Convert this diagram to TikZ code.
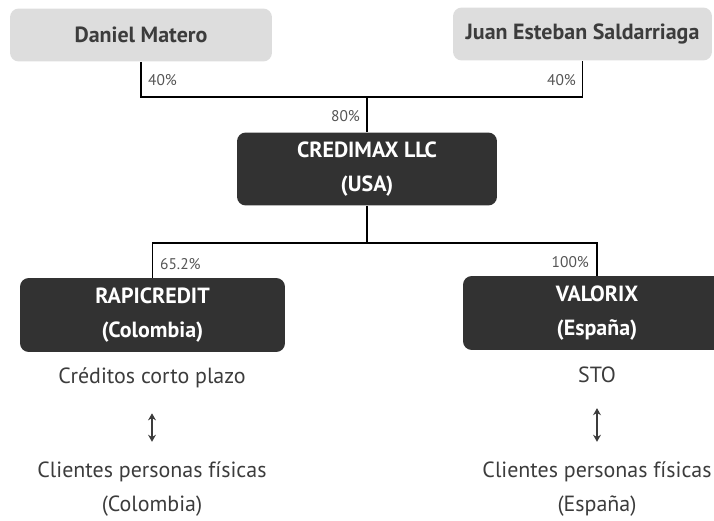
\documentclass[tikz,border=0pt]{standalone}
\usepackage{fontspec}
\setmainfont{PT Sans}
\usetikzlibrary{arrows.meta, positioning}
\definecolor{boxDark}{RGB}{50,50,50}
\definecolor{boxLight}{RGB}{221,221,221}
\definecolor{textInk}{RGB}{60,60,60}
\definecolor{pctInk}{RGB}{85,85,85}

\begin{document}
\begin{tikzpicture}[x=0.02cm, y=-0.02cm,
    owner/.style={rounded corners=5pt, fill=boxLight, text=textInk, font=\fontsize{12.5}{14}\selectfont\bfseries, minimum height=1.06cm},
    firm/.style={rounded corners=5pt, fill=boxDark, text=white, font=\fontsize{12.5}{19}\selectfont\bfseries, align=center, minimum height=1.46cm},
    pct/.style={font=\fontsize{8.8}{10}\selectfont, text=pctInk, inner sep=1pt},
    desc/.style={font=\fontsize{12.5}{19}\selectfont, text=textInk, align=center},
    link/.style={line width=1.1pt, draw=black},
    arrow/.style={{Stealth[length=4pt,width=4.5pt]}-{Stealth[length=4pt,width=4.5pt]}, line width=1.4pt, draw=textInk}
  ]
  \useasboundingbox (0,0) rectangle (714,521);
  \clip (0,0) rectangle (714,521);

  % owners
  \node[owner, minimum width=5.24cm] (daniel) at (141,35) {Daniel Matero};
  \node[owner, minimum width=5.18cm] (juan) at (582.5,34) {Juan Esteban Saldarriaga};

  % companies
  \node[firm, minimum width=5.2cm] (credimax) at (367,169) {CREDIMAX LLC\\(USA)};
  \node[firm, minimum width=5.3cm, minimum height=1.48cm] (rapi) at (152.5,315) {RAPICREDIT\\(Colombia)};
  \node[firm, minimum width=5.36cm, minimum height=1.48cm] (valorix) at (597,313) {VALORIX\\(España)};

  \coordinate (topjoin) at (367,97);
  \coordinate (lowjoin) at (367,243);
  \draw[link] (daniel.south) |- (topjoin) -| (juan.south);
  \draw[link] (topjoin) -- (credimax.north);
  \draw[link] (credimax.south) -- (lowjoin);
  \draw[link] (rapi.north) |- (lowjoin) -| (valorix.north);

  % shares
  \node[pct, anchor=west] (pdaniel) at (146,80) {40\%};
  \node[pct, anchor=east] (pjuan) at (578,80) {40\%};
  \node[pct, anchor=east] (pcred) at (362,116) {80\%};
  \node[pct, anchor=west] (prapi) at (158,264) {65.2\%};
  \node[pct, anchor=east] (pval) at (591,262) {100\%};

  % activity and clients
  \node[desc] (credcol) at (152,378) {Créditos corto plazo};
  \node[desc] (clcol) at (152,489) {Clientes personas físicas\\(Colombia)};
  \node[desc] (sto) at (597,375) {STO};
  \node[desc] (clesp) at (597,489) {Clientes personas físicas\\(España)};
  \draw[arrow, shorten <=0.38cm, shorten >=0.28cm] (credcol.south) -- (clcol.north);
  \draw[arrow, shorten <=0.38cm, shorten >=0.28cm] (sto.south) -- (clesp.north);
\end{tikzpicture}
\end{document}
